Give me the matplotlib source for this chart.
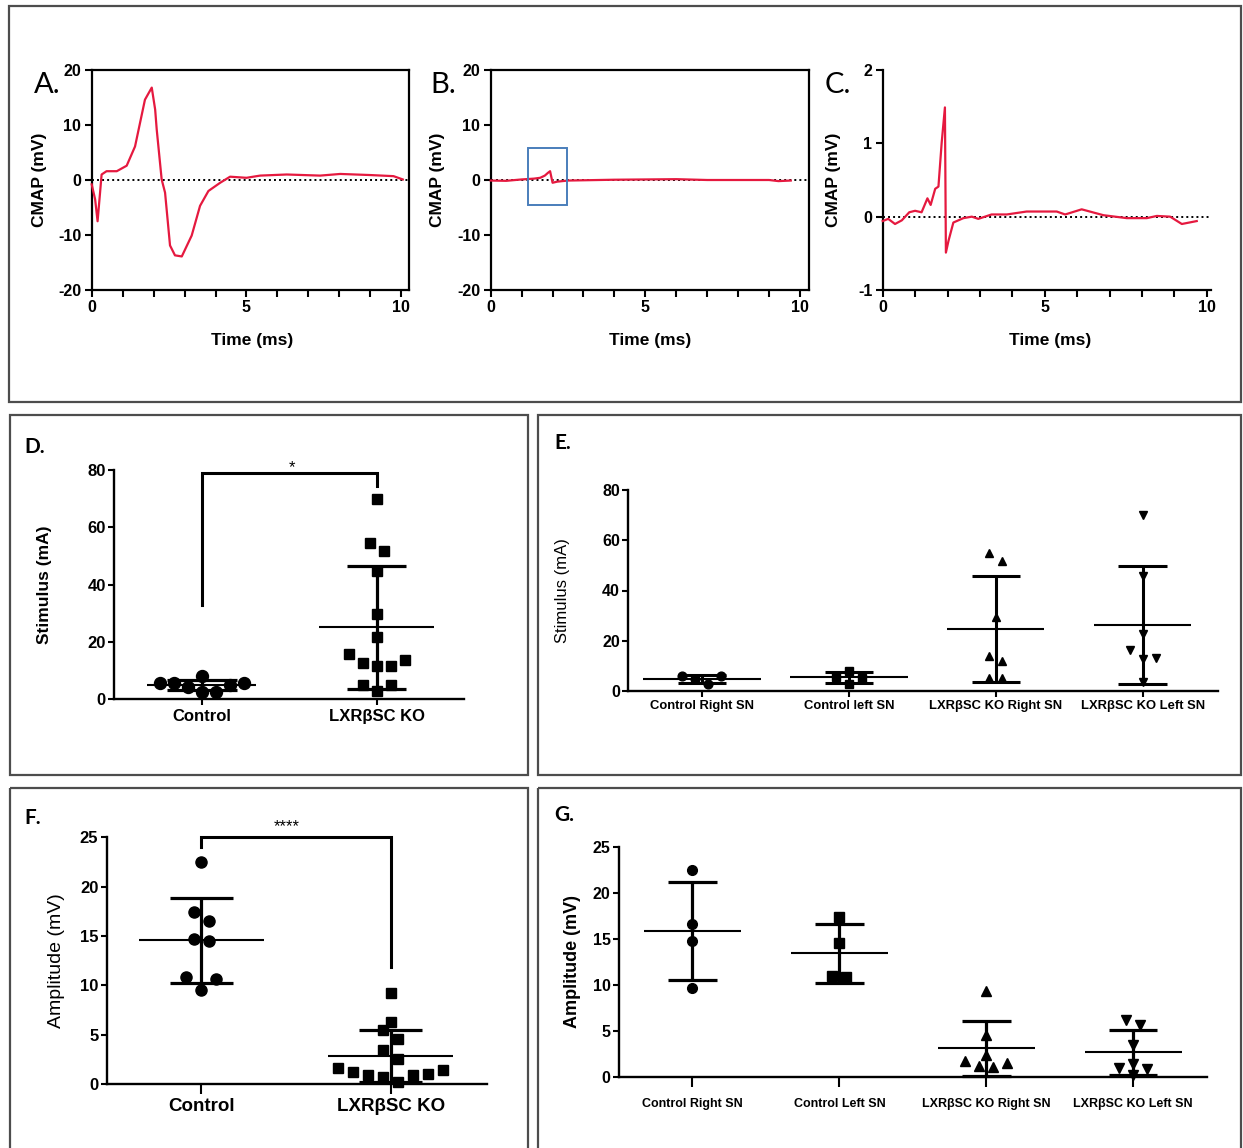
import numpy as np
import matplotlib
matplotlib.use("Agg")
import matplotlib.pyplot as plt
from matplotlib.patches import Rectangle

plt.rcParams["axes.unicode_minus"] = False

# ---------------- data ----------------
trace_a_t = [0.0, 0.11, 0.19, 0.27, 0.32, 0.48, 0.81, 1.13, 1.40, 1.72, 1.94, 2.05, 2.10,
             2.26, 2.37, 2.53, 2.69, 2.91, 3.23, 3.50, 3.77, 4.15, 4.47, 5.0, 5.44, 6.3,
             7.38, 8.03, 9.0, 9.75, 10.05]
trace_a_v = [-0.8, -3.5, -7.5, -2.3, 1.0, 1.6, 1.6, 2.6, 6.1, 14.6, 16.8, 12.8, 9.2,
             0.1, -2.3, -11.9, -13.7, -13.9, -10.1, -4.7, -2.0, -0.5, 0.6, 0.4, 0.8, 1.0,
             0.8, 1.1, 0.9, 0.7, 0.1]

trace_b_t = [0.0, 0.5, 1.0, 1.4, 1.6, 1.75, 1.85, 1.92, 2.0, 2.15, 2.5, 3.0, 4.0, 5.0,
             6.0, 7.0, 8.0, 9.0, 9.3, 9.7]
trace_b_v = [-0.1, -0.15, 0.1, 0.25, 0.4, 0.8, 1.3, 1.6, -0.5, -0.3, -0.1, -0.05, 0.05,
             0.1, 0.15, 0.0, 0.0, 0.0, -0.2, -0.1]

trace_c_t = [0.0, 0.17, 0.38, 0.59, 0.82, 1.0, 1.2, 1.38, 1.48, 1.62, 1.72, 1.82, 1.92,
             1.95, 2.03, 2.18, 2.49, 2.75, 2.95, 3.36, 3.83, 4.44, 5.37, 5.63, 6.14, 6.81,
             7.53, 8.15, 8.46, 8.87, 9.23, 9.69]
trace_c_v = [-0.06, -0.03, -0.1, -0.05, 0.06, 0.08, 0.06, 0.25, 0.16, 0.38, 0.41, 1.01,
             1.49, -0.49, -0.33, -0.08, -0.02, 0.0, -0.03, 0.03, 0.03, 0.07, 0.07, 0.03,
             0.1, 0.02, -0.02, -0.02, 0.01, 0.0, -0.1, -0.06]

time_ticks = [0, 5, 10]
cmap_ticks_ab = [-20, -10, 0, 10, 20]
cmap_ticks_c = [-1, 0, 1, 2]

groups_two = ["Control", "LXRβSC KO"]
stim_control = [5.6, 5.6, 4.4, 8.1, 2.7, 2.7, 5.0, 5.6]
stim_ko = [69.8, 54.7, 51.9, 44.9, 29.8, 21.9, 13.7, 11.7, 11.7, 12.8, 15.7, 5.0, 5.0, 3.0]

stim_side_groups = ["Control Right SN", "Control left SN",
                    "LXRβSC KO Right SN", "LXRβSC KO Left SN"]
stim_ctrl_right = [6.0, 2.7, 4.8, 6.0]
stim_ctrl_left = [5.6, 8.1, 2.7, 5.3]
stim_ko_right = [54.9, 51.9, 29.5, 13.9, 11.9, 5.3, 5.3]
stim_ko_left = [70.1, 45.6, 22.5, 13.2, 12.8, 16.5, 3.6]
stim_ticks = [0, 20, 40, 60, 80]

amp_control = [22.5, 17.4, 16.5, 14.7, 14.5, 10.8, 10.6, 9.5]
amp_ko = [9.26, 6.3, 5.5, 4.6, 3.4, 2.5, 1.4, 1.0, 0.9, 0.2, 0.7, 0.9, 1.25, 1.65]

amp_side_groups = ["Control Right SN", "Control Left SN",
                   "LXRβSC KO Right SN", "LXRβSC KO Left SN"]
amp_ctrl_right = [22.5, 16.6, 14.7, 9.6]
amp_ctrl_left = [17.4, 14.5, 10.8, 10.9]
amp_ko_right = [9.3, 4.5, 2.4, 1.45, 1.1, 1.2, 1.7]
amp_ko_left = [6.2, 5.6, 3.5, 1.4, 1.0, 0.8, 0.2]
amp_ticks = [0, 5, 10, 15, 20, 25]

sig_stim = "*"
sig_amp = "****"

# ---------------- styling ----------------
W, H = 1243, 1148
RED = "#E5193F"
FRAME = "#4d4d4d"
BOLD = ["Liberation Sans", "DejaVu Sans"]
NARROW = ["Liberation Sans Narrow", "Liberation Sans", "DejaVu Sans"]
LETTER = ["Lato", "DejaVu Sans"]

fig = plt.figure(figsize=(W / 100, H / 100), dpi=100)
bg = fig.add_axes([0, 0, 1, 1], zorder=-5)
bg.set_xlim(0, W)
bg.set_ylim(H, 0)
bg.axis("off")

# panel frames
for (x0, y0, x1, y1) in [(9, 6, 1241, 402), (10, 415, 528, 775), (538, 415, 1241, 775),
                         (10, 788, 528, 1152), (538, 788, 1241, 1152)]:
    bg.add_patch(Rectangle((x0, y0), x1 - x0, y1 - y0, fill=False, ec=FRAME, lw=1.6))

for txt, x, y in [("A.", 34, 85), ("B.", 430, 85), ("C.", 825, 85)]:
    bg.text(x, y, txt, family=LETTER, fontsize=21, ha="left", va="center")
for txt, x, y in [("D.", 24, 447), ("E.", 554, 443), ("F.", 24, 818), ("G.", 554, 815)]:
    bg.text(x, y, txt, family=LETTER, fontsize=15, weight="bold", ha="left", va="center")


def px_axes(l, t, r, b):
    ax = fig.add_axes([l / W, 1 - b / H, (r - l) / W, (b - t) / H])
    ax.patch.set_visible(False)
    return ax


def style_ticklabels(ax, family, size, weight="bold"):
    for lab in ax.get_xticklabels() + ax.get_yticklabels():
        lab.set_family(family)
        lab.set_fontsize(size)
        lab.set_fontweight(weight)


def trace_axes(l, r, t, b, tt, vv, xmax, ylim, yticks, ylx, xlx, box, line_end):
    ax = px_axes(l, t, r, b)
    ax.set_xlim(0, xmax)
    ax.set_ylim(*ylim)
    ax.plot([0, line_end], [0, 0], ls=(0, (1, 1.6)), color="k", lw=1.4, zorder=2)
    ax.plot(tt, vv, color=RED, lw=1.6, zorder=3, clip_on=False)
    for s in ["top", "right"]:
        ax.spines[s].set_visible(box)
    for s in ax.spines.values():
        s.set_linewidth(1.6)
    ax.set_xticks(time_ticks)
    ax.set_xticks(np.arange(0, 11), minor=True)
    ax.set_yticks(yticks)
    ax.tick_params(which="both", direction="out", length=5, width=1.5, pad=2.5)
    style_ticklabels(ax, BOLD, 11.5)
    ax.set_ylabel("CMAP (mV)", family=BOLD, weight="bold", fontsize=12.5, va="center", ha="center")
    ax.yaxis.set_label_coords(ylx, (t + b) / 2, transform=bg.transData)
    ax.set_xlabel("Time (ms)", family=BOLD, weight="bold", fontsize=12.5, va="center", ha="center")
    ax.xaxis.set_label_coords(xlx, 340, transform=bg.transData)
    return ax


axA = trace_axes(91.7, 409, 70, 290, trace_a_t, trace_a_v, 10.25, (-20, 20), cmap_ticks_ab,
                 40, 252, True, 10.25)
axB = trace_axes(490.7, 809, 70, 290, trace_b_t, trace_b_v, 10.29, (-20, 20), cmap_ticks_ab,
                 438, 650, True, 10.29)
axB.add_patch(Rectangle((1.21, -4.5), 1.26, 10.3, fill=False, ec="#4A7EBB", lw=1.4, zorder=4))
axC = trace_axes(882.7, 1211, 70, 290, trace_c_t, trace_c_v, 10.13, (-1, 2), cmap_ticks_c,
                 834, 1050, False, 10.13)


def swarm_x(ax, xc, vals, row_px, spacing_px):
    """Row-based scatter arrangement: points in one row spread symmetrically."""
    vals = np.asarray(vals, float)
    T = ax.transData
    disp = T.transform(np.column_stack([np.full(len(vals), xc), vals]))
    y = disp[:, 1]
    x0 = disp[0, 0]
    order = np.argsort(vals, kind="stable")
    rows, cur, start = [], [order[0]], y[order[0]]
    for i in order[1:]:
        if y[i] - start <= row_px:
            cur.append(i)
        else:
            rows.append(cur)
            cur, start = [i], y[i]
    rows.append(cur)
    offs = np.zeros(len(vals))
    for row in rows:
        n = len(row)
        if n % 2:
            slots = [0.0]
            for k in range(1, n):
                slots += [k, -k]
        else:
            slots = []
            for k in range(n):
                slots += [k + 0.5, -(k + 0.5)]
        for idx, i in enumerate(row):
            offs[i] = slots[idx] * spacing_px
    return T.inverted().transform(np.column_stack([x0 + offs, y]))[:, 0]


def group_plot(ax, xc, vals, marker, msize, row_px, spacing_px, mean_half=0.33, cap_half=0.17,
               lw_mean=1.5, lw_sd=2.3):
    xs = swarm_x(ax, xc, vals, row_px, spacing_px)
    ax.plot(xs, vals, ls="none", marker=marker, ms=msize, color="k", mec="k",
            clip_on=False, zorder=5)
    m = float(np.mean(vals))
    s = float(np.std(vals, ddof=1))
    kw = dict(color="k", solid_capstyle="butt", clip_on=False, zorder=4)
    ax.plot([xc - mean_half, xc + mean_half], [m, m], lw=lw_mean, **kw)
    ax.plot([xc, xc], [m - s, m + s], lw=lw_sd, **kw)
    ax.plot([xc - cap_half, xc + cap_half], [m + s, m + s], lw=lw_sd, **kw)
    ax.plot([xc - cap_half, xc + cap_half], [m - s, m - s], lw=lw_sd, **kw)


def cat_axes(l, t, r, b, xlim, ylim, yticks, labels, lab_family, lab_size, lab_pad,
             tick_family, tick_size, tick_len_x, ylabel, ylab_family, ylab_weight, ylab_size,
             ylx, spine_w=1.7):
    ax = px_axes(l, t, r, b)
    ax.set_xlim(*xlim)
    ax.set_ylim(*ylim)
    for s in ["top", "right"]:
        ax.spines[s].set_visible(False)
    for s in ["left", "bottom"]:
        ax.spines[s].set_linewidth(spine_w)
    ax.set_yticks(yticks)
    ax.set_xticks(range(len(labels)))
    ax.set_xticklabels(labels)
    ax.tick_params(axis="y", direction="out", length=4.5, width=1.5, pad=1.5)
    ax.tick_params(axis="x", direction="out", length=tick_len_x, width=1.5, pad=lab_pad)
    for lab in ax.get_yticklabels():
        lab.set_family(tick_family)
        lab.set_fontsize(tick_size)
        lab.set_fontweight("bold")
    for lab in ax.get_xticklabels():
        lab.set_family(lab_family)
        lab.set_fontsize(lab_size)
        lab.set_fontweight("bold")
    ax.set_ylabel(ylabel, family=ylab_family, weight=ylab_weight, fontsize=ylab_size,
                  va="center", ha="center")
    ax.yaxis.set_label_coords(ylx, (t + b) / 2, transform=bg.transData)
    return ax


# ---- D ----
axD = cat_axes(114.2, 470, 464.2, 699.3, (-0.5, 1.5), (0, 80), stim_ticks, groups_two,
               BOLD, 12, 2.6, BOLD, 12, 4.5, "Stimulus (mA)", BOLD, "bold", 12.5, 45)
group_plot(axD, 0, stim_control, "o", 8.6, 15, 14, mean_half=0.31, cap_half=0.2)
group_plot(axD, 1, stim_ko, "s", 7.6, 15, 14, mean_half=0.33, cap_half=0.17)
axD.plot([0, 0, 1, 1], [32.9, 78.8, 78.8, 74.4], color="k", lw=2.2, clip_on=False,
         solid_joinstyle="miter")
axD.text(0.515, 81.0, sig_stim, ha="center", va="center", fontsize=12, family=BOLD)

# ---- E ----
axE = cat_axes(628.3, 490, 1217.7, 691, (-0.5, 3.51), (0, 80), stim_ticks, stim_side_groups,
               NARROW, 9.4, 2.2, BOLD, 11.5, 4.0, "Stimulus (mA)", BOLD, "normal", 12, 563)
for i, (vals, mk) in enumerate([(stim_ctrl_right, "o"), (stim_ctrl_left, "s"),
                                (stim_ko_right, "^"), (stim_ko_left, "v")]):
    group_plot(axE, i, vals, mk, 6.3, 11, 13, mean_half=0.4 if i < 2 else 0.33,
               cap_half=0.165, lw_mean=1.5, lw_sd=2.2)

# ---- F ----
axF = cat_axes(106.7, 837.3, 486.7, 1084, (-0.5, 1.507), (0, 25), amp_ticks, groups_two,
               BOLD, 13.5, 3.0, BOLD, 12, 7.0, "Amplitude (mV)", BOLD, "normal", 14, 57)
group_plot(axF, 0, amp_control, "o", 8.0, 15, 15, mean_half=0.33, cap_half=0.165)
group_plot(axF, 1, amp_ko, "s", 7.2, 15, 15, mean_half=0.33, cap_half=0.165)
axF.plot([0, 0, 1, 1], [24.0, 25.0, 25.0, 11.9], color="k", lw=2.2, clip_on=False,
         solid_joinstyle="miter")
axF.text(0.45, 26.1, sig_amp, ha="center", va="center", fontsize=12, family=BOLD)

# ---- G ----
axG = cat_axes(619, 846.7, 1206.7, 1076.7, (-0.5, 3.5), (0, 25), amp_ticks, amp_side_groups,
               NARROW, 9.0, 7.5, BOLD, 11.5, 7.5, "Amplitude (mV)", BOLD, "bold", 13, 573)
for i, (vals, mk) in enumerate([(amp_ctrl_right, "o"), (amp_ctrl_left, "s"),
                                (amp_ko_right, "^"), (amp_ko_left, "v")]):
    group_plot(axG, i, vals, mk, 7.0, 11, 14, mean_half=0.33, cap_half=0.165,
               lw_mean=1.5, lw_sd=2.3)

fig.savefig("out.png", dpi=100)
